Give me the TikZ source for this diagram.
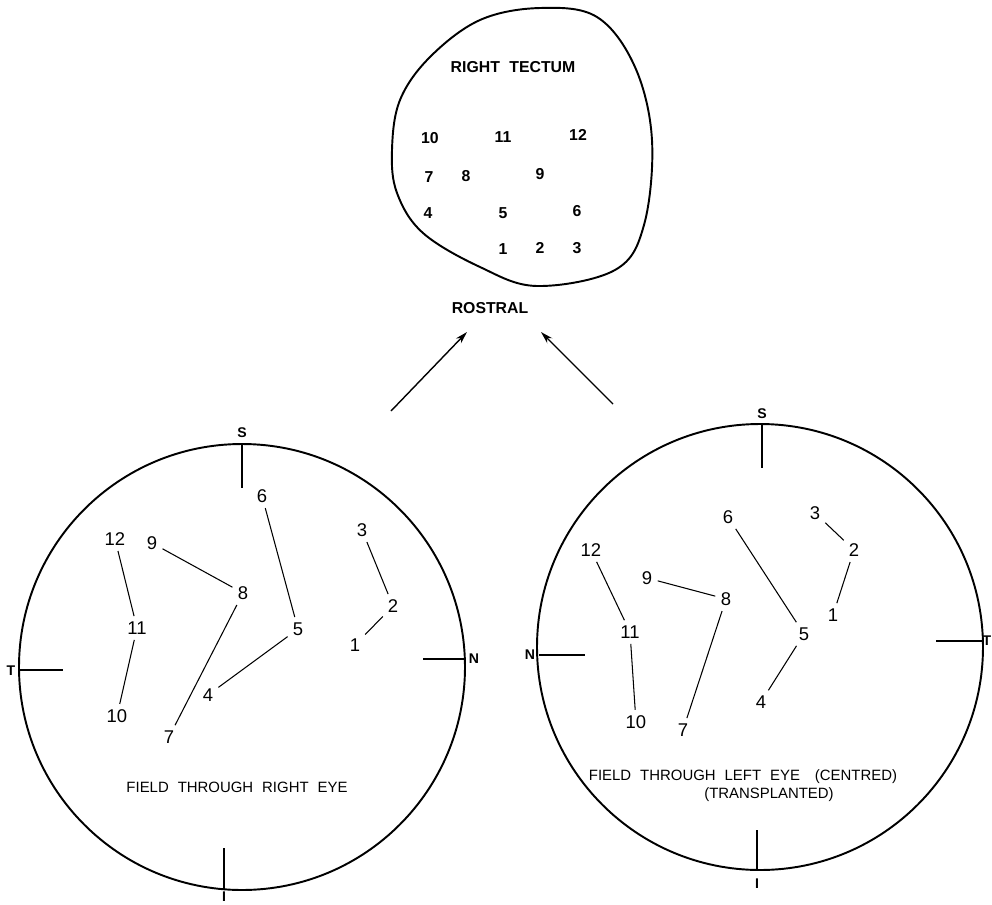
\documentclass[tikz,border=0pt]{standalone}
\usepackage{fontspec}
\setmainfont{Liberation Sans}
\usetikzlibrary{arrows.meta}
\tikzstyle{sheet} = [x = 0.02cm, y = -0.02cm]
\tikzstyle{outlineStyle} = [color=black, line width=1.1pt]
\tikzstyle{tickLine} = [color=black, line width=0.8pt]
\tikzstyle{pathLine} = [color=black, line width=0.6pt, shorten <=1pt, shorten >=1pt]
\tikzstyle{tectumText} = [font=\fontsize{9}{11}\selectfont\bfseries, inner sep=1pt]
\tikzstyle{fieldDigit} = [font=\fontsize{10.5}{12}\selectfont, inner sep=2pt]
\tikzstyle{captionText} = [font=\fontsize{8.5}{10}\selectfont, inner sep=1pt]
\tikzstyle{compassText} = [font=\fontsize{8}{10}\selectfont\bfseries, inner sep=1pt]
\tikzstyle{mapArrow} = [color=black, line width=0.8pt, -{Stealth[length=7pt, width=4pt]}]
\newcommand{\fieldRadius}{223}

\begin{document}
\begin{tikzpicture}[sheet]
  \useasboundingbox (0,0) rectangle (992,904);

  % right tectum
  \draw [outlineStyle] plot [smooth cycle, tension=0.6] coordinates {
    (540,8) (597,17) (635,67) (652,140) (644,225) (615,270) (537,286)
    (480,267) (423,233) (397,193) (392,150) (400,100) (430,57) (480,20)};
  \node [tectumText] (tectumTitle) at (513,67) {RIGHT\hspace{0.6em}TECTUM};
  \foreach \num/\px/\py in {10/430/138, 11/503/137, 12/578/135,
                            7/429/177, 8/466/176, 9/540/174,
                            4/428/213, 5/503/213, 6/577/211,
                            1/503/249, 2/540/248, 3/577/248}
    \node [tectumText] (t\num) at (\px,\py) {\num};
  \node [tectumText] (rostral) at (490,308) {ROSTRAL};

  % arrows
  \coordinate (leftTail) at (391,411);
  \coordinate (leftTip) at (467,332);
  \coordinate (rightTail) at (613,404);
  \coordinate (rightTip) at (541,332);
  \draw [mapArrow] (leftTail) -- (leftTip);
  \draw [mapArrow] (rightTail) -- (rightTip);

  % field through right eye
  \draw [outlineStyle] (242,667) circle (\fieldRadius);
  \draw [tickLine] (242,444) -- (242,488);
  \draw [tickLine] (20,670) -- (63,670);
  \draw [tickLine] (423,659) -- (465,659);
  \draw [tickLine] (224,848) -- (224,890);
  \node [compassText] (leftS) at (242,433) {S};
  \node [compassText] (leftT) at (11,671) {T};
  \node [compassText] (leftN) at (474,659) {N};
  \node [compassText] (leftI) at (224,897) {I};
  \foreach \num/\px/\py in {6/262/496, 12/115/539, 9/152/543, 3/362/530,
                            8/243/593, 2/393/606, 11/137/628, 5/298/629,
                            1/355/645, 4/208/695, 10/117/716, 7/169/737}
    \node [fieldDigit] (l\num) at (\px,\py) {\num};
  \foreach \a/\b in {12/11, 11/10, 9/8, 8/7, 6/5, 5/4, 3/2, 2/1}
    \draw [pathLine] (l\a) -- (l\b);
  \node [captionText] (leftCaption) at (237,787)
    {FIELD\hspace{0.6em}THROUGH\hspace{0.6em}RIGHT\hspace{0.6em}EYE};

  % field through left eye
  \draw [outlineStyle] (760,647) circle (\fieldRadius);
  \draw [tickLine] (762,424) -- (762,468);
  \draw [tickLine] (539,655) -- (585,655);
  \draw [tickLine] (936,641) -- (982,641);
  \draw [tickLine] (757,830) -- (757,870);
  \node [compassText] (rightS) at (762,414) {S};
  \node [compassText] (rightN) at (530,655) {N};
  \node [compassText] (rightT) at (987,641) {T};
  \node [compassText] (rightI) at (757,884) {I};
  \foreach \num/\px/\py in {6/728/517, 3/815/513, 12/591/550, 2/854/550,
                            9/647/578, 8/726/599, 1/833/615, 11/630/632,
                            5/804/634, 4/761/702, 10/636/722, 7/683/730}
    \node [fieldDigit] (r\num) at (\px,\py) {\num};
  \foreach \a/\b in {12/11, 11/10, 9/8, 8/7, 6/5, 5/4, 3/2, 2/1}
    \draw [pathLine] (r\a) -- (r\b);
  \node [captionText] (rightCaption) at (743,777)
    {FIELD\hspace{0.6em}THROUGH\hspace{0.6em}LEFT\hspace{0.6em}EYE\hspace{1em}(CENTRED)};
  \node [captionText] (rightCaptionTwo) at (769,795) {(TRANSPLANTED)};
\end{tikzpicture}
\end{document}
